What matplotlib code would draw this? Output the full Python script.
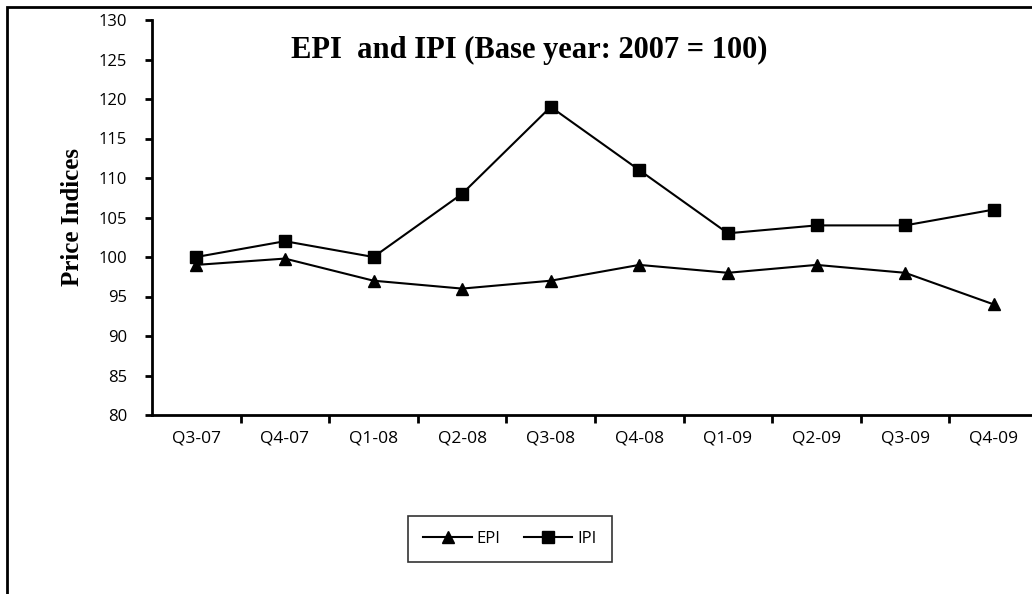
import matplotlib.pyplot as plt
from matplotlib.lines import Line2D
from matplotlib.patches import Rectangle

# Quarterly price indices (base year 2007 = 100)
quarters = ['Q3-07', 'Q4-07', 'Q1-08', 'Q2-08', 'Q3-08',
            'Q4-08', 'Q1-09', 'Q2-09', 'Q3-09', 'Q4-09']
epi = [99, 99.8, 97, 96, 97, 99, 98, 99, 98, 94]
ipi = [100, 102, 100, 108, 119, 111, 103, 104, 104, 106]
y_ticks = [80, 85, 90, 95, 100, 105, 110, 115, 120, 125, 130]

fig = plt.figure(figsize=(10.32, 5.94), dpi=100)
ax = fig.add_axes([152 / 1032, 1 - 415 / 594, 886 / 1032, 395 / 594])

x = list(range(len(quarters)))
ax.plot(x, epi, color='black', lw=1.5, marker='^', markersize=8, label='EPI')
ax.plot(x, ipi, color='black', lw=1.5, marker='s', markersize=8.5, label='IPI')

ax.set_xlim(-0.5, len(quarters) - 0.5)
ax.set_ylim(80, 130)
ax.set_yticks(y_ticks)
ax.set_yticklabels([str(v) for v in y_ticks], fontfamily='Open Sans', fontsize=12)

# category labels between boundary ticks
ax.set_xticks([i + 0.5 for i in x[:-1]] + [len(quarters) - 0.5])
ax.set_xticklabels([])
ax.set_xticks(x, minor=True)
ax.set_xticklabels(quarters, minor=True, fontfamily='Open Sans', fontsize=12.5)
ax.tick_params(axis='x', which='minor', length=0, pad=11)
ax.tick_params(axis='x', which='major', length=6, width=2, direction='out')
ax.tick_params(axis='y', length=5, width=2, direction='out', pad=13)

for side in ['top', 'right']:
    ax.spines[side].set_visible(False)
for side in ['left', 'bottom']:
    ax.spines[side].set_linewidth(2)

ax.set_ylabel('Price Indices', fontfamily='Liberation Serif', fontweight='bold',
              fontsize=18, labelpad=10)

fig.text(529 / 1032, 1 - 50 / 594, 'EPI  and IPI (Base year: 2007 = 100)',
         fontfamily='Liberation Serif', fontweight='bold', fontsize=22,
         ha='center', va='center')

leg = fig.legend(handles=[
    Line2D([], [], color='black', lw=1.5, marker='^', markersize=8, label='EPI'),
    Line2D([], [], color='black', lw=1.5, marker='s', markersize=8.5, label='IPI')],
    loc='center', bbox_to_anchor=(510 / 1032, 1 - 539 / 594), ncol=2,
    frameon=True, fancybox=False, edgecolor='black', handlelength=2.9,
    columnspacing=1.4, borderpad=0.9, borderaxespad=0, handletextpad=0.3,
    prop={'family': 'Open Sans', 'size': 12})
leg.get_frame().set_linewidth(1.2)

# outer chart frame (left and top visible)
fig.patches.append(Rectangle((7 / 1032, -0.05), 1.1, 1 - 7 / 594 + 0.05,
                             transform=fig.transFigure, fill=False,
                             edgecolor='black', lw=2))

fig.savefig('out.png', dpi=100)
